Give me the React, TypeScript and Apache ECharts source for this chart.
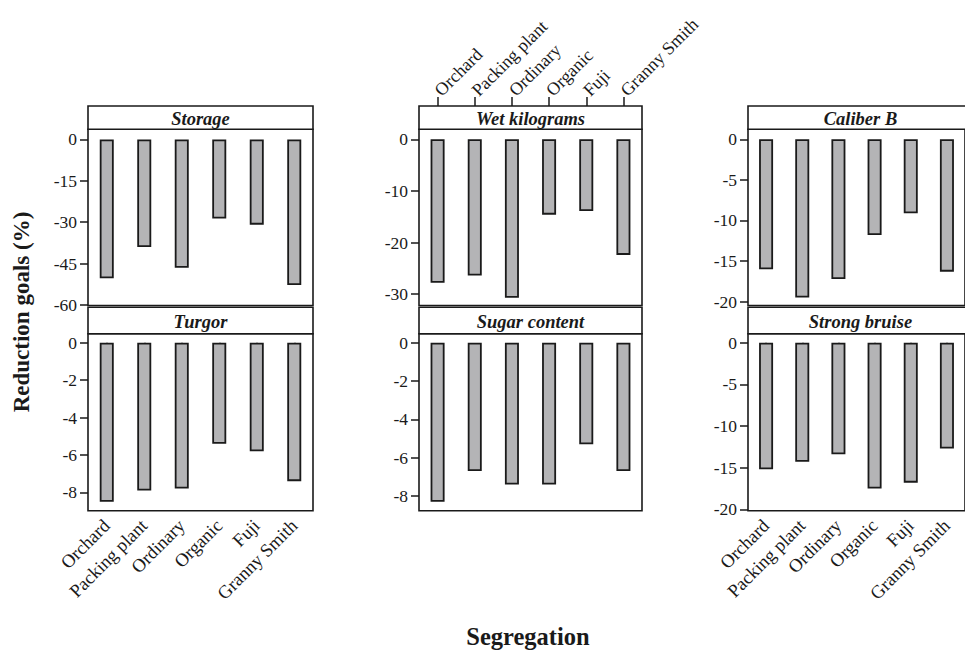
import React, { useEffect, useRef } from "react";
import * as echarts from "echarts";

const categories = ["Orchard", "Packing plant", "Ordinary", "Organic", "Fuji", "Granny Smith"];

const storage = [-50.3, -39.0, -46.5, -28.7, -30.9, -52.8];
const wetKilograms = [-27.8, -26.4, -30.7, -14.6, -13.9, -22.4];
const caliberB = [-16.0, -19.5, -17.2, -11.8, -9.1, -16.3];
const turgor = [-8.5, -7.9, -7.8, -5.4, -5.8, -7.4];
const sugarContent = [-8.3, -6.7, -7.4, -7.4, -5.3, -6.7];
const strongBruise = [-15.2, -14.3, -13.4, -17.5, -16.8, -12.7];

const storageTicks = [0, -15, -30, -45, -60];
const wetTicks = [0, -10, -20, -30];
const caliberTicks = [0, -5, -10, -15, -20];
const turgorTicks = [0, -2, -4, -6, -8];
const sugarTicks = [0, -2, -4, -6, -8];
const bruiseTicks = [0, -5, -10, -15, -20];

const panelTitles = ["Storage", "Wet kilograms", "Caliber B", "Turgor", "Sugar content", "Strong bruise"];
const yAxisTitle = "Reduction goals (%)";
const xAxisTitle = "Segregation";

const FONT = "'Liberation Serif', 'Times New Roman', serif";
const INK = "#1a1a1a";

export default function App() {
  const ref = useRef<HTMLDivElement>(null);

  useEffect(() => {
    if (!ref.current) return;
    const chart = echarts.init(ref.current, undefined, { renderer: "svg" });

    const panels = [
      { data: storage, ticks: storageTicks, left: 88, width: 225, top: 129.3, height: 176.2, min: -60.2, max: 3.66, stripTop: 106, bottom: false, topAx: false },
      { data: wetKilograms, ticks: wetTicks, left: 419, width: 223, top: 129.3, height: 176.2, min: -32.2, max: 1.94, stripTop: 106, bottom: false, topAx: true },
      { data: caliberB, ticks: caliberTicks, left: 748, width: 225, top: 129.3, height: 176.2, min: -20.47, max: 1.23, stripTop: 106, bottom: false, topAx: false },
      { data: turgor, ticks: turgorTicks, left: 88, width: 225, top: 333.7, height: 177, min: -8.98, max: 0.48, stripTop: 307.3, bottom: true, topAx: false },
      { data: sugarContent, ticks: sugarTicks, left: 419, width: 223, top: 333.7, height: 177, min: -8.77, max: 0.47, stripTop: 307.3, bottom: false, topAx: false },
      { data: strongBruise, ticks: bruiseTicks, left: 748, width: 225, top: 333.7, height: 177, min: -20.17, max: 1.08, stripTop: 307.3, bottom: true, topAx: false },
    ];

    const grid: any[] = [];
    const xAxis: any[] = [];
    const yAxis: any[] = [];
    const series: any[] = [];
    const graphic: any[] = [];

    panels.forEach((p, i) => {
      grid.push({
        left: p.left,
        top: p.top,
        width: p.width,
        height: p.height,
        show: true,
        borderColor: INK,
        borderWidth: 1.6,
        backgroundColor: "transparent",
        containLabel: false,
      });
      const xi = xAxis.length;
      xAxis.push({
        type: "category",
        gridIndex: i,
        data: categories,
        position: "bottom",
        boundaryGap: true,
        axisLine: { show: false },
        axisTick: { show: p.bottom, alignWithLabel: true, length: 7, lineStyle: { color: INK, width: 1.5 } },
        axisLabel: {
          show: p.bottom,
          rotate: 45,
          margin: 12,
          fontFamily: FONT,
          fontSize: 18.5,
          color: INK,
          interval: 0,
        },
        splitLine: { show: false },
      });
      if (p.topAx) {
        xAxis.push({
          type: "category",
          gridIndex: i,
          data: categories,
          position: "top",
          offset: p.top - p.stripTop,
          boundaryGap: true,
          axisLine: { show: false },
          axisTick: { show: true, alignWithLabel: true, length: 9, lineStyle: { color: INK, width: 1.5 } },
          axisLabel: {
            show: true,
            rotate: -45,
            margin: 13,
            fontFamily: FONT,
            fontSize: 18,
            color: INK,
            interval: 0,
          },
          splitLine: { show: false },
        });
      }
      yAxis.push({
        type: "value",
        gridIndex: i,
        min: p.min,
        max: p.max,
        axisLine: { show: false },
        axisTick: { show: true, length: 8, customValues: p.ticks, lineStyle: { color: INK, width: 1.5 } },
        axisLabel: {
          show: true,
          customValues: p.ticks,
          margin: 11,
          fontFamily: FONT,
          fontSize: 17.5,
          color: INK,
        },
        splitLine: { show: false },
      });
      series.push({
        type: "bar",
        xAxisIndex: xi,
        yAxisIndex: i,
        data: p.data,
        barWidth: 14,
        itemStyle: { color: "#b4b4b6", borderColor: INK, borderWidth: 1.8 },
        silent: true,
      });

      const stripH = p.top - p.stripTop;
      graphic.push({
        type: "rect",
        shape: { x: p.left, y: p.stripTop, width: p.width, height: stripH },
        style: { fill: "#ffffff", stroke: INK, lineWidth: 1.6 },
        z: 10,
      });
      graphic.push({
        type: "text",
        x: p.left + p.width / 2,
        y: p.stripTop + stripH / 2 + 1,
        style: {
          text: panelTitles[i],
          fontFamily: FONT,
          fontSize: 18.5,
          fontWeight: "bold",
          fontStyle: "italic",
          fill: INK,
          align: "center",
          verticalAlign: "middle",
        },
        z: 11,
      });
    });

    graphic.push({
      type: "text",
      x: 21,
      y: 312,
      rotation: Math.PI / 2,
      style: {
        text: yAxisTitle,
        fontFamily: FONT,
        fontSize: 23,
        fontWeight: "bold",
        fill: INK,
        align: "center",
        verticalAlign: "middle",
      },
    });
    graphic.push({
      type: "text",
      x: 528,
      y: 636,
      style: {
        text: xAxisTitle,
        fontFamily: FONT,
        fontSize: 24.5,
        fontWeight: "bold",
        fill: INK,
        align: "center",
        verticalAlign: "middle",
      },
    });

    chart.setOption({
      animation: false,
      backgroundColor: "#ffffff",
      grid,
      xAxis,
      yAxis,
      series,
      graphic,
    });

    return () => {
      chart.dispose();
    };
  }, []);

  return (
    <div
      ref={ref}
      style={{ position: "fixed", left: 0, top: 0, width: 965, height: 651, background: "#fff" }}
    />
  );
}
